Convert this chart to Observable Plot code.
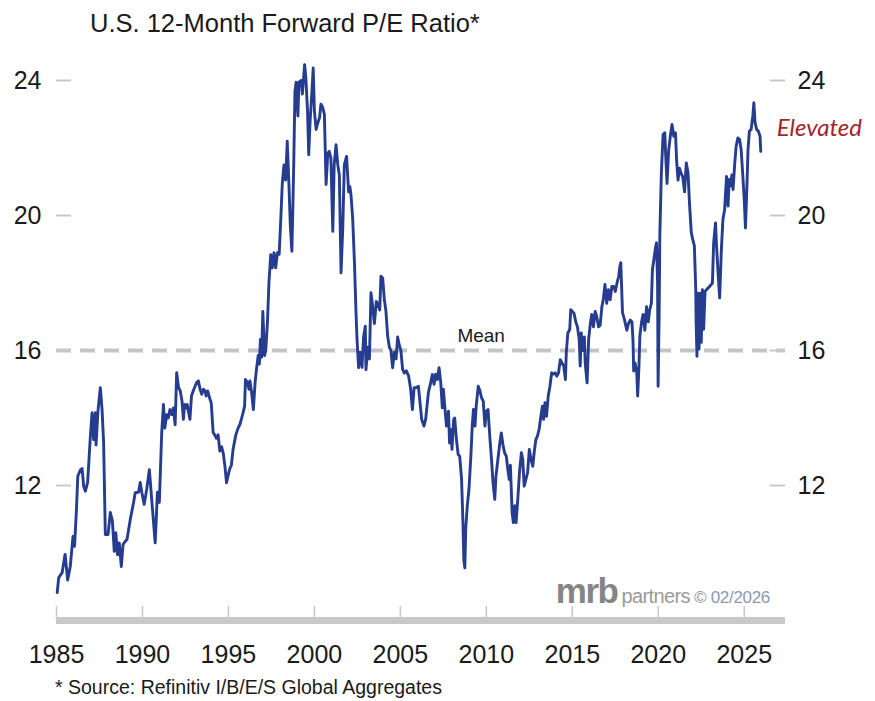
<!DOCTYPE html>
<html><head><meta charset="utf-8">
<script src="https://cdn.jsdelivr.net/npm/d3@7"></script>
<script src="https://cdn.jsdelivr.net/npm/@observablehq/plot@0.6"></script>
<style>
html,body{margin:0;padding:0;background:#fff;}
#wrap{position:relative;width:875px;height:701px;overflow:hidden;font-family:"Liberation Sans",Arial,sans-serif;color:#1a1a1a;}
#title{position:absolute;left:90px;top:11px;font-size:25.5px;line-height:1;white-space:nowrap;}
#chart{position:absolute;left:0;top:40px;}
#foot{position:absolute;left:55px;top:678px;font-size:19.5px;line-height:1;white-space:nowrap;}
#mark{position:absolute;right:105px;top:577px;line-height:28px;white-space:nowrap;display:flex;align-items:baseline;}
#mark .m{font-size:35px;font-weight:bold;color:#858585;letter-spacing:-1.5px;}
#mark .p{font-size:20px;color:#9a9a9a;margin-left:4px;letter-spacing:-0.6px;}
#mark .c{font-size:17px;color:#8e98ad;margin-left:4px;letter-spacing:-0.3px;}
</style></head>
<body>
<div id="wrap">
  <div id="title">U.S. 12-Month Forward P/E Ratio*</div>
  <div id="chart"></div>
  <div id="mark"><span class="m">mrb</span><span class="p">partners</span><span class="c">© 02/2026</span></div>
  <div id="foot">* Source: Refinitiv I/B/E/S Global Aggregates</div>
</div>
<script>
// [decimal year, forward P/E]
const pe1985_1990 = [
[1985.04,8.83],[1985.13,9.27],[1985.33,9.42],[1985.50,9.96],[1985.65,9.20],[1985.80,9.60],[1985.96,10.49],
[1986.05,10.20],[1986.16,11.29],[1986.24,12.28],[1986.40,12.47],[1986.49,12.50],[1986.58,11.98],[1986.68,11.83],
[1986.81,12.09],[1986.97,13.46],[1987.07,14.16],[1987.16,13.36],[1987.26,14.16],[1987.30,13.20],[1987.41,14.20],
[1987.55,14.90],[1987.65,14.25],[1987.74,13.27],[1987.84,10.55],[1988.00,10.55],[1988.13,11.20],[1988.25,10.95],
[1988.36,10.05],[1988.45,10.60],[1988.55,9.95],[1988.65,10.30],[1988.77,9.60],[1988.87,10.25],[1989.00,10.35],
[1989.10,10.40],[1989.29,10.99],[1989.48,11.49],[1989.58,11.79],[1989.77,11.80],[1989.87,12.09],[1989.96,11.80],
[1990.10,11.44],[1990.25,11.90],[1990.40,12.47]
];
const pe1990_1997 = [
[1990.54,11.57],[1990.74,10.30],[1990.87,11.80],[1990.98,11.50],[1991.12,13.57],[1991.22,14.40],[1991.30,13.70],
[1991.41,14.10],[1991.50,14.00],[1991.60,14.25],[1991.70,14.10],[1991.80,14.30],[1991.90,13.80],[1991.99,15.34],
[1992.10,14.90],[1992.20,14.80],[1992.30,14.50],[1992.38,13.96],[1992.45,14.40],[1992.55,14.30],[1992.60,14.40],
[1992.76,13.96],[1992.85,14.65],[1992.95,14.80],[1993.15,15.05],[1993.25,15.10],[1993.35,14.85],[1993.45,14.70],
[1993.55,14.85],[1993.65,14.80],[1993.70,14.65],[1993.80,14.80],[1993.90,14.60],[1994.00,14.45],[1994.11,13.57],
[1994.20,13.50],[1994.30,13.40],[1994.40,13.50],[1994.50,13.02],[1994.60,13.15],[1994.70,12.95],[1994.80,12.55],
[1994.89,12.08],[1994.98,12.30],[1995.08,12.50],[1995.17,12.60],[1995.27,13.07],[1995.43,13.50],[1995.56,13.70],
[1995.66,13.80],[1995.75,13.96],[1995.85,14.15],[1995.94,14.35],[1995.99,15.14],[1996.10,15.05],[1996.20,14.85],
[1996.25,15.10],[1996.35,14.75],[1996.45,14.25],[1996.55,15.05],[1996.63,15.44],[1996.73,15.85]
];
const pe1997_2002 = [
[1996.80,15.60],[1996.86,16.33],[1996.93,15.80],[1997.00,17.16],[1997.10,15.85],[1997.17,16.00],[1997.27,16.85],
[1997.36,18.05],[1997.46,18.84],[1997.55,18.45],[1997.65,18.90],[1997.75,18.45],[1997.85,18.90],[1997.95,18.85],
[1998.04,19.83],[1998.13,20.92],[1998.23,21.50],[1998.33,21.05],[1998.42,22.20],[1998.52,20.90],[1998.60,19.70],
[1998.69,18.94],[1998.75,20.30],[1998.80,21.60],[1998.87,23.68],[1998.94,23.95],[1999.04,22.95],[1999.10,23.95],
[1999.23,24.00],[1999.30,23.60],[1999.43,24.47],[1999.50,24.10],[1999.60,23.10],[1999.67,21.80],[1999.75,22.80],
[1999.87,23.80],[1999.93,24.37],[2000.00,23.10],[2000.10,22.55],[2000.20,22.75],[2000.30,22.90],[2000.38,23.30],
[2000.48,23.20],[2000.58,23.00],[2000.68,20.92],[2000.78,21.85],[2000.86,21.90],[2000.96,21.70],[2001.07,19.53],
[2001.15,21.50],[2001.26,22.10],[2001.36,21.50],[2001.45,21.20],[2001.55,18.30],[2001.65,19.63],[2001.74,21.50],
[2001.87,21.75]
];
const pe2002_2006 = [
[2001.99,20.70],[2002.06,20.86],[2002.13,20.60],[2002.23,19.88],[2002.33,18.60],[2002.42,17.12],[2002.48,16.33],
[2002.57,15.49],[2002.67,15.95],[2002.77,15.50],[2002.86,16.40],[2002.96,16.72],[2003.00,15.43],[2003.10,16.10],
[2003.20,15.75],[2003.29,17.71],[2003.39,17.30],[2003.49,16.80],[2003.60,17.45],[2003.68,17.40],[2003.80,17.20],
[2003.87,18.20],[2003.97,18.15],[2004.07,17.50],[2004.16,17.17],[2004.26,16.43],[2004.36,16.10],[2004.45,16.00],
[2004.55,15.49],[2004.65,15.95],[2004.75,15.75],[2004.84,16.40],[2004.94,16.15],[2005.03,16.00],[2005.13,15.44],
[2005.23,15.33],[2005.35,15.40],[2005.48,15.24],[2005.60,14.85],[2005.70,14.25],[2005.80,14.90],[2005.93,14.90],
[2006.05,14.94]
];
const pe2006_2011 = [
[2006.24,13.96],[2006.37,13.76],[2006.47,13.96],[2006.63,14.75],[2006.76,15.04],[2006.86,15.29],[2006.96,15.00],
[2007.05,15.30],[2007.15,15.14],[2007.25,15.49],[2007.35,15.04],[2007.44,14.30],[2007.50,14.85],[2007.60,14.25],
[2007.68,13.76],[2007.80,14.20],[2007.86,13.26],[2007.96,13.66],[2008.00,13.07],[2008.10,13.96],[2008.16,14.00],
[2008.26,13.37],[2008.36,12.92],[2008.45,12.87],[2008.56,12.18],[2008.64,10.90],[2008.69,9.80],[2008.75,9.56],
[2008.80,10.70],[2008.89,11.39],[2008.99,11.89],[2009.10,12.87],[2009.18,13.76],[2009.25,14.25],[2009.34,13.76],
[2009.41,14.35],[2009.53,14.94],[2009.63,14.80],[2009.72,14.60],[2009.82,14.50],[2009.92,13.76],[2010.00,14.20],
[2010.10,14.25],[2010.20,13.46],[2010.30,12.77],[2010.39,12.08],[2010.49,11.59],[2010.56,12.28],[2010.66,12.72],
[2010.77,13.20],[2010.87,13.56],[2010.97,13.20],[2011.06,12.97],[2011.16,12.87],[2011.25,12.48],[2011.33,12.18],
[2011.40,12.60]
];
const pe2011_2016 = [
[2011.50,11.19],[2011.57,10.90],[2011.66,11.40],[2011.73,10.90],[2011.83,11.60],[2011.93,12.40],[2012.04,12.97],
[2012.12,12.77],[2012.20,11.98],[2012.30,12.18],[2012.40,12.38],[2012.50,13.07],[2012.60,12.77],[2012.70,12.57],
[2012.78,12.97],[2012.88,13.36],[2012.97,13.46],[2013.07,13.66],[2013.17,14.05],[2013.26,14.35],[2013.33,13.96],
[2013.41,14.45],[2013.50,14.05],[2013.60,14.65],[2013.70,14.94],[2013.80,15.34],[2013.90,15.30],[2014.00,15.34],
[2014.10,15.24],[2014.20,15.34],[2014.30,15.73],[2014.40,15.63],[2014.50,15.54],[2014.60,15.14],[2014.65,15.93],
[2014.74,16.52],[2014.85,16.62],[2014.91,17.21],[2015.00,17.16],[2015.10,17.10],[2015.20,16.85],[2015.30,16.70],
[2015.40,16.33],[2015.46,15.54],[2015.52,16.52],[2015.60,16.00],[2015.70,16.40],[2015.75,15.63],[2015.86,15.04],
[2015.95,16.33],[2016.05,16.80],[2016.13,17.07],[2016.23,16.70],[2016.33,17.16],[2016.42,17.00],[2016.53,16.70]
];
const pe2016_2022 = [
[2016.62,16.75],[2016.72,17.30],[2016.80,17.50],[2016.90,17.96],[2017.00,17.40],[2017.10,17.80],[2017.20,17.50],
[2017.30,17.90],[2017.40,17.90],[2017.50,17.75],[2017.60,18.00],[2017.70,18.20],[2017.77,18.50],[2017.82,18.60],
[2017.92,17.12],[2018.04,16.90],[2018.17,16.60],[2018.27,16.80],[2018.37,16.90],[2018.47,16.85],[2018.53,16.30],
[2018.57,15.39],[2018.65,15.63],[2018.75,15.34],[2018.80,14.65],[2018.87,15.44],[2018.93,16.43],[2019.03,16.85],
[2019.12,17.07],[2019.22,16.60],[2019.32,17.30],[2019.42,16.85],[2019.50,17.20],[2019.60,17.40],[2019.66,18.40],
[2019.76,18.75],[2019.84,19.05],[2019.90,19.19],[2019.96,18.00],[2019.99,14.94],[2020.05,17.00],[2020.09,19.39],
[2020.18,21.27],[2020.28,22.40],[2020.38,22.45],[2020.43,21.80],[2020.51,20.95],[2020.60,21.90],[2020.70,22.35],
[2020.80,22.70],[2020.90,22.35],[2021.00,22.45],[2021.07,21.60],[2021.15,21.05],[2021.23,21.40],[2021.33,21.25],
[2021.42,21.15],[2021.53,20.70],[2021.63,21.56],[2021.73,21.27],[2021.82,20.33],[2021.92,19.50],[2022.00,19.30]
];
const pe2022_2026 = [
[2022.10,19.10],[2022.18,17.80],[2022.20,16.90],[2022.25,15.83],[2022.30,17.70],[2022.37,16.04],[2022.45,17.70],
[2022.50,16.24],[2022.57,17.80],[2022.64,16.63],[2022.72,17.75],[2022.80,17.80],[2022.99,17.90],[2023.15,18.00],
[2023.22,19.19],[2023.33,19.78],[2023.39,19.09],[2023.49,18.20],[2023.57,17.56],[2023.67,18.99],[2023.76,19.88],
[2023.86,20.18],[2023.97,21.16],[2024.06,20.28],[2024.12,21.07],[2024.20,20.87],[2024.28,21.20],[2024.35,20.77],
[2024.45,21.56],[2024.53,22.05],[2024.63,22.30],[2024.73,22.25],[2024.82,21.95],[2024.92,21.16],[2025.00,20.48],
[2025.07,19.63],[2025.15,20.77],[2025.22,21.95],[2025.30,22.50],[2025.40,22.55],[2025.50,22.95],[2025.56,23.34],
[2025.63,22.75],[2025.72,22.55],[2025.82,22.50],[2025.92,22.35],[2025.96,21.90]
];

const yTicks = [12, 16, 20, 24];
const xTicks = [1985, 1990, 1995, 2000, 2005, 2010, 2015, 2020, 2025];
const meanPE = [16];
const meanLabel = [{t: 2009.7, v: 16, label: "Mean"}];
const endLabel = "Elevated";

const series = [].concat(pe1985_1990, pe1990_1997, pe1997_2002, pe2002_2006,
  pe2006_2011, pe2011_2016, pe2016_2022, pe2022_2026).map(([t, v]) => ({t, v}));
const lastPoint = [series[series.length - 1]];

const W = 875, H = 630, mL = 56, mR = 90, mT = 6.25, mB = 50;
const frameW = W - mL - mR, frameH = H - mT - mB;
const grey = "#c8c8c8";

const chart = Plot.plot({
  width: W, height: H,
  marginLeft: mL, marginRight: mR, marginTop: mT, marginBottom: mB,
  x: {domain: [1985, 2027.4]},
  y: {domain: [8, 25]},
  style: {fontFamily: '"Liberation Sans", Arial, sans-serif', fontSize: "25px", color: "#1a1a1a", background: "transparent", overflow: "visible"},
  marks: [
    Plot.ruleY(meanPE, {stroke: "#c4c4c4", strokeWidth: 4, strokeDasharray: "15,9"}),
    Plot.ruleY(yTicks, {insetRight: frameW - 15, stroke: grey, strokeWidth: 2}),
    Plot.ruleY(yTicks, {insetLeft: frameW - 15, stroke: grey, strokeWidth: 2}),
    Plot.ruleX(xTicks, {insetTop: frameH - 14, stroke: grey, strokeWidth: 1.5}),
    Plot.ruleY([8], {stroke: grey, strokeWidth: 7}),
    Plot.axisY({anchor: "left", ticks: yTicks, tickSize: 0, tickPadding: 15, label: null, fontSize: 25}),
    Plot.axisY({anchor: "right", ticks: yTicks, tickSize: 0, tickPadding: 12, label: null, fontSize: 25}),
    Plot.axisX({anchor: "bottom", ticks: xTicks, tickSize: 0, tickPadding: 25, tickFormat: "d", label: null, fontSize: 25}),
    Plot.line(series, {x: "t", y: "v", stroke: "#263d8f", strokeWidth: 2.9, strokeLinejoin: "round"}),
    Plot.text(meanLabel, {x: "t", y: "v", text: "label", dy: -15, fontSize: 19}),
    Plot.text(lastPoint, {x: "t", y: "v", text: () => endLabel, textAnchor: "start", dx: 16, dy: -23,
      fill: "#a3262a", fontSize: 24, fontStyle: "italic", fontFamily: "Lato"})
  ]
});
document.getElementById("chart").appendChild(chart);
</script>
</body></html>
